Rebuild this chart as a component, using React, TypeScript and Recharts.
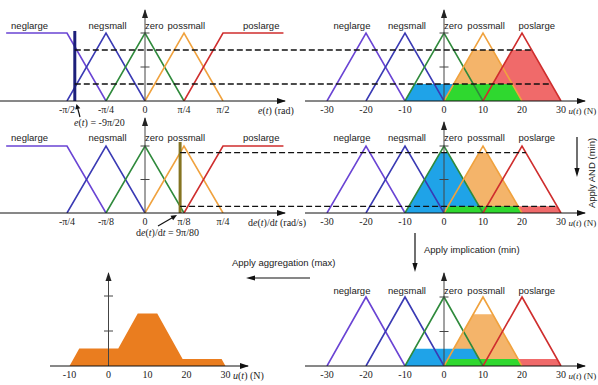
import React from "react";
import { ComposedChart, Line, Area, XAxis, YAxis, ReferenceLine, ReferenceDot } from "recharts";

type Pt = { x: number; y: number };

// input fuzzy sets, x measured in tick steps (π/4 for e(t), π/8 for de(t)/dt)
const inNeglarge: Pt[] = [{ x: -3.56, y: 1 }, { x: -2, y: 1 }, { x: -1, y: 0 }];
const inNegsmall: Pt[] = [{ x: -2, y: 0 }, { x: -1, y: 1 }, { x: 0, y: 0 }];
const inZero: Pt[] = [{ x: -1, y: 0 }, { x: 0, y: 1 }, { x: 1, y: 0 }];
const inPossmall: Pt[] = [{ x: 0, y: 0 }, { x: 1, y: 1 }, { x: 2, y: 0 }];
const inPoslarge: Pt[] = [{ x: 1, y: 0 }, { x: 2, y: 1 }, { x: 3.55, y: 1 }];

// output fuzzy sets, u(t) in N
const outNeglarge: Pt[] = [{ x: -30, y: 0 }, { x: -20, y: 1 }, { x: -10, y: 0 }];
const outNegsmall: Pt[] = [{ x: -20, y: 0 }, { x: -10, y: 1 }, { x: 0, y: 0 }];
const outZero: Pt[] = [{ x: -10, y: 0 }, { x: 0, y: 1 }, { x: 10, y: 0 }];
const outPossmall: Pt[] = [{ x: 0, y: 0 }, { x: 10, y: 1 }, { x: 20, y: 0 }];
const outPoslarge: Pt[] = [{ x: 10, y: 0 }, { x: 20, y: 1 }, { x: 30, y: 0 }];

const setNames = ["neglarge", "negsmall", "zero", "possmall", "poslarge"];

const stepTicks = [-2, -1, 0, 1, 2];
const eTickLabels = ["-π/2", "-π/4", "0", "π/4", "π/2"];
const deTickLabels = ["-π/4", "-π/8", "0", "π/8", "π/4"];
const uTicks = [-30, -20, -10, 0, 10, 20, 30];
const aggTicks = [-10, 0, 10, 20, 30];

const eInput = -1.8; // -9π/20
const deInput = 0.9; // 9π/80
const eDegrees = [0.75, 0.25];
const eDashEnds = [22.5, 27.5];
const deDegrees = [0.9, 0.1];
const deDashEnds = [21, 29];

// clipped consequents
const topOrange: Pt[] = [{ x: 0, y: 0 }, { x: 7.5, y: 0.75 }, { x: 12.5, y: 0.75 }, { x: 20, y: 0 }];
const topRed: Pt[] = [{ x: 10, y: 0 }, { x: 17.5, y: 0.75 }, { x: 22.5, y: 0.75 }, { x: 30, y: 0 }];
const topBlue: Pt[] = [{ x: -10, y: 0 }, { x: -7.5, y: 0.25 }, { x: 7.5, y: 0.25 }, { x: 10, y: 0 }];
const topGreen: Pt[] = [{ x: 0, y: 0 }, { x: 2.5, y: 0.25 }, { x: 17.5, y: 0.25 }, { x: 20, y: 0 }];

const midOrange: Pt[] = [{ x: 0, y: 0 }, { x: 9, y: 0.9 }, { x: 11, y: 0.9 }, { x: 20, y: 0 }];
const midBlue: Pt[] = [{ x: -10, y: 0 }, { x: -1, y: 0.9 }, { x: 1, y: 0.9 }, { x: 10, y: 0 }];
const midRed: Pt[] = [{ x: 10, y: 0 }, { x: 11, y: 0.1 }, { x: 29, y: 0.1 }, { x: 30, y: 0 }];
const midGreen: Pt[] = [{ x: 0, y: 0 }, { x: 1, y: 0.1 }, { x: 19, y: 0.1 }, { x: 20, y: 0 }];

const botOrange: Pt[] = [{ x: 0, y: 0 }, { x: 7.5, y: 0.75 }, { x: 12.5, y: 0.75 }, { x: 20, y: 0 }];
const botBlue: Pt[] = [{ x: -10, y: 0 }, { x: -7.5, y: 0.25 }, { x: 7.5, y: 0.25 }, { x: 10, y: 0 }];
const botRed: Pt[] = [{ x: 10, y: 0 }, { x: 11, y: 0.1 }, { x: 29, y: 0.1 }, { x: 30, y: 0 }];
const botGreen: Pt[] = [{ x: 0, y: 0 }, { x: 1, y: 0.1 }, { x: 19, y: 0.1 }, { x: 20, y: 0 }];

const aggregated: Pt[] = [
  { x: -10, y: 0 }, { x: -7.5, y: 0.25 }, { x: 2.5, y: 0.25 }, { x: 7.5, y: 0.75 },
  { x: 12.5, y: 0.75 }, { x: 19, y: 0.1 }, { x: 29, y: 0.1 }, { x: 30, y: 0 },
];

const W = 598;
const H = 385;
const setColors = ["#6a44d4", "#3a3ab4", "#2f8a3c", "#f0a23e", "#cf2e2e"];
const BLUE = "#1fa3e8";
const GREEN = "#2fd82f";
const ORANGE = "#f4b46a";
const RED = "#f06a6a";
const SANS = '"Liberation Sans", Arial, sans-serif';
const SERIF = '"Liberation Serif", "Times New Roman", serif';

type Frame = { zeroPx: number; unitPx: number; left: number; right: number; top: number; base: number; yPx: number };

const topLeft: Frame = { zeroPx: 145, unitPx: 39, left: 0, right: 285, top: 10, base: 101, yPx: 68 };
const topRight: Frame = { zeroPx: 444, unitPx: 3.9, left: 305, right: 585, top: 10, base: 101, yPx: 68 };
const midLeft: Frame = { zeroPx: 145, unitPx: 39, left: 0, right: 285, top: 118, base: 213, yPx: 67 };
const midRight: Frame = { zeroPx: 444, unitPx: 3.9, left: 305, right: 585, top: 122, base: 213, yPx: 67 };
const botRight: Frame = { zeroPx: 444, unitPx: 3.9, left: 305, right: 585, top: 273, base: 366, yPx: 69 };
const botLeft: Frame = { zeroPx: 108.5, unitPx: 3.9, left: 50, right: 248, top: 273, base: 366, yPx: 70 };

const xDomain = (f: Frame) => [(f.left - f.zeroPx) / f.unitPx, (f.right - f.zeroPx) / f.unitPx];
const yTop = (f: Frame) => (f.base - f.top) / f.yPx;
const toPage = (f: Frame, x: number) => f.zeroPx + x * f.unitPx;
const fromPage = (f: Frame, px: number) => (px - f.zeroPx) / f.unitPx;

const inLabelX = [-2.96, -0.96, 0.0, 1.06, 2.98];
const outLabelX = [-23.6, -9.5, 0, 10.8, 23.8];

const lines = (sets: Pt[][], k: string) =>
  sets.map((d, i) => (
    <Line
      key={`${k}-l${i}`}
      data={d}
      dataKey="y"
      type="linear"
      stroke={setColors[i]}
      strokeWidth={1.6}
      dot={false}
      activeDot={false}
      isAnimationActive={false}
    />
  ));

const fills = (list: [Pt[], string][], k: string) =>
  list.map(([d, c], i) => (
    <Area
      key={`${k}-a${i}`}
      data={d}
      dataKey="y"
      type="linear"
      stroke="none"
      fill={c}
      fillOpacity={1}
      dot={false}
      activeDot={false}
      isAnimationActive={false}
    />
  ));

const names = (xs: number[], y: number, k: string) =>
  xs.map((x, i) => (
    <ReferenceDot
      key={`${k}-n${i}`}
      x={x}
      y={y}
      ifOverflow="visible"
      shape={(p: any) => (
        <text
          x={p.cx}
          y={p.cy}
          textAnchor={setNames[i] === "zero" ? "start" : "middle"}
          dominantBaseline="central"
          fontSize={9.5}
          fontFamily={SANS}
          fill="#222"
        >
          {setNames[i]}
        </text>
      )}
    />
  ));

const axisBits = (f: Frame, k: string) => {
  const xMax = xDomain(f)[1];
  const top = yTop(f);
  const half = 4.5 / f.unitPx;
  return [
    <ReferenceLine key={`${k}-va`} segment={[{ x: 0, y: 0 }, { x: 0, y: top }]} stroke="#444" ifOverflow="visible" />,
    <ReferenceDot
      key={`${k}-vh`}
      x={0}
      y={top}
      ifOverflow="visible"
      shape={(p: any) => <polygon points={`${p.cx},${p.cy - 1} ${p.cx - 3},${p.cy + 8} ${p.cx + 3},${p.cy + 8}`} fill="#222" />}
    />,
    <ReferenceDot
      key={`${k}-xh`}
      x={xMax}
      y={0}
      ifOverflow="visible"
      shape={(p: any) => <polygon points={`${p.cx + 1},${p.cy} ${p.cx - 8},${p.cy - 3} ${p.cx - 8},${p.cy + 3}`} fill="#111" />}
    />,
    ...[0.5, 1].map((v) => (
      <ReferenceLine key={`${k}-t${v}`} segment={[{ x: -half, y: v }, { x: half, y: v }]} stroke="#444" ifOverflow="visible" />
    )),
  ];
};

const Panel = ({ frame, ticks, tickLabels, children }: { frame: Frame; ticks: number[]; tickLabels?: string[]; children: React.ReactNode }) => (
  <div style={{ position: "absolute", left: 0, top: 0 }}>
    <ComposedChart
      width={W}
      height={frame.base + 20}
      margin={{ top: frame.top, right: W - frame.right, bottom: 0, left: frame.left }}
    >
      <XAxis
        type="number"
        dataKey="x"
        domain={xDomain(frame)}
        allowDataOverflow
        ticks={ticks}
        interval={0}
        tickFormatter={(v: number, i: number) => (tickLabels ? tickLabels[i] : String(v))}
        axisLine={{ stroke: "#111" }}
        tickLine={false}
        tickSize={3}
        tickMargin={2}
        height={20}
        tick={{ fontSize: 10, fontFamily: SERIF, fill: "#222" }}
      />
      <YAxis type="number" domain={[0, yTop(frame)]} allowDataOverflow hide width={0} />
      {children}
    </ComposedChart>
  </div>
);

const inputSets = [inNeglarge, inNegsmall, inZero, inPossmall, inPoslarge];
const outputSets = [outNeglarge, outNegsmall, outZero, outPossmall, outPoslarge];

const Arrow = ({ x1, y1, x2, y2, head = 7 }: { x1: number; y1: number; x2: number; y2: number; head?: number }) => {
  const a = Math.atan2(y2 - y1, x2 - x1);
  const p1 = [x2 - head * Math.cos(a) + 2.6 * Math.sin(a), y2 - head * Math.sin(a) - 2.6 * Math.cos(a)];
  const p2 = [x2 - head * Math.cos(a) - 2.6 * Math.sin(a), y2 - head * Math.sin(a) + 2.6 * Math.cos(a)];
  return (
    <g>
      <line x1={x1} y1={y1} x2={x2 - (head - 1) * Math.cos(a)} y2={y2 - (head - 1) * Math.sin(a)} stroke="#111" strokeWidth={1.2} />
      <polygon points={`${x2},${y2} ${p1[0]},${p1[1]} ${p2[0]},${p2[1]}`} fill="#111" />
    </g>
  );
};

const It = ({ children }: { children: React.ReactNode }) => <tspan fontStyle="italic">{children}</tspan>;

export default function App() {
  const eDashStart = fromPage(topRight, toPage(topLeft, eInput));
  const deDashStart = fromPage(midRight, toPage(midLeft, deInput));

  return (
    <div style={{ position: "absolute", left: 0, top: 0, width: W, height: H, background: "#fff" }}>
      <Panel frame={topLeft} ticks={stepTicks} tickLabels={eTickLabels}>
        {lines(inputSets, "tl")}
        {axisBits(topLeft, "tl")}
        <ReferenceLine segment={[{ x: eInput, y: 0 }, { x: eInput, y: 1.03 }]} stroke="#1c1f7a" strokeWidth={3} ifOverflow="visible" />
        {names(inLabelX, (101 - 25) / 68, "tl")}
      </Panel>

      <Panel frame={topRight} ticks={uTicks}>
        {fills([[topOrange, ORANGE], [topRed, RED], [topBlue, BLUE], [topGreen, GREEN]], "tr")}
        {lines(outputSets, "tr")}
        {axisBits(topRight, "tr")}
        {eDegrees.map((d, i) => (
          <ReferenceLine
            key={`ed${i}`}
            segment={[{ x: eDashStart, y: d }, { x: eDashEnds[i], y: d }]}
            stroke="#111"
            strokeWidth={1.3}
            strokeDasharray="6 3"
            ifOverflow="visible"
          />
        ))}
        {names(outLabelX, (101 - 25) / 68, "tr")}
      </Panel>

      <Panel frame={midLeft} ticks={stepTicks} tickLabels={deTickLabels}>
        {lines(inputSets, "ml")}
        {axisBits(midLeft, "ml")}
        <ReferenceLine segment={[{ x: deInput, y: 0 }, { x: deInput, y: 1.06 }]} stroke="#857421" strokeWidth={3} ifOverflow="visible" />
        {names(inLabelX, (213 - 137) / 67, "ml")}
      </Panel>

      <Panel frame={midRight} ticks={uTicks}>
        {fills([[midOrange, ORANGE], [midBlue, BLUE], [midRed, RED], [midGreen, GREEN]], "mr")}
        {lines(outputSets, "mr")}
        {axisBits(midRight, "mr")}
        {deDegrees.map((d, i) => (
          <ReferenceLine
            key={`dd${i}`}
            segment={[{ x: deDashStart, y: d }, { x: deDashEnds[i], y: d }]}
            stroke="#111"
            strokeWidth={1.3}
            strokeDasharray="6 3"
            ifOverflow="visible"
          />
        ))}
        {names(outLabelX, (213 - 137) / 67, "mr")}
      </Panel>

      <Panel frame={botRight} ticks={uTicks}>
        {fills([[botOrange, ORANGE], [botBlue, BLUE], [botRed, RED], [botGreen, GREEN]], "br")}
        {lines(outputSets, "br")}
        {axisBits(botRight, "br")}
        {names(outLabelX, (366 - 290) / 69, "br")}
      </Panel>

      <Panel frame={botLeft} ticks={aggTicks}>
        {fills([[aggregated, "#ea7d1f"]], "bl")}
        {axisBits(botLeft, "bl")}
      </Panel>

      <svg width={W} height={H} style={{ position: "absolute", left: 0, top: 0, pointerEvents: "none" }}>
        <g fontFamily={SERIF} fontSize={10} fill="#222">
          <text x={74} y={126}>
            <It>e</It>(<It>t</It>) = -9π/20
          </text>
          <text x={258} y={114}>
            <It>e</It>(<It>t</It>) (rad)
          </text>
          <text x={136} y={236}>
            d<It>e</It>(<It>t</It>)/d<It>t</It> = 9π/80
          </text>
          <text x={248} y={226}>
            d<It>e</It>(<It>t</It>)/d<It>t</It> (rad/s)
          </text>
          <text x={233} y={379}>
            <It>u</It>(<It>t</It>) (N)
          </text>
        </g>
        <g fontFamily={SERIF} fontSize={9} fill="#222">
          <text x={568.5} y={114}>
            <It>u</It>(<It>t</It>) (N)
          </text>
          <text x={568.5} y={226}>
            <It>u</It>(<It>t</It>) (N)
          </text>
          <text x={568.5} y={379}>
            <It>u</It>(<It>t</It>) (N)
          </text>
        </g>
        <Arrow x1={80} y1={117} x2={76.5} y2={104} head={5} />
        <Arrow x1={158} y1={226} x2={177} y2={215} head={6} />

        <g fontFamily={SANS} fontSize={9.5} fill="#222">
          <text x={591} y={173} textAnchor="middle" dominantBaseline="central" transform="rotate(-90 591 173)">
            Apply AND (min)
          </text>
          <text x={424} y={253}>Apply implication (min)</text>
          <text x={232} y={266}>Apply aggregation (max)</text>
        </g>
        <Arrow x1={577} y1={137} x2={577} y2={177} head={9} />
        <Arrow x1={415} y1={233} x2={415} y2={272} head={9} />
        <Arrow x1={310} y1={278} x2={246} y2={278} head={9} />
      </svg>
    </div>
  );
}
